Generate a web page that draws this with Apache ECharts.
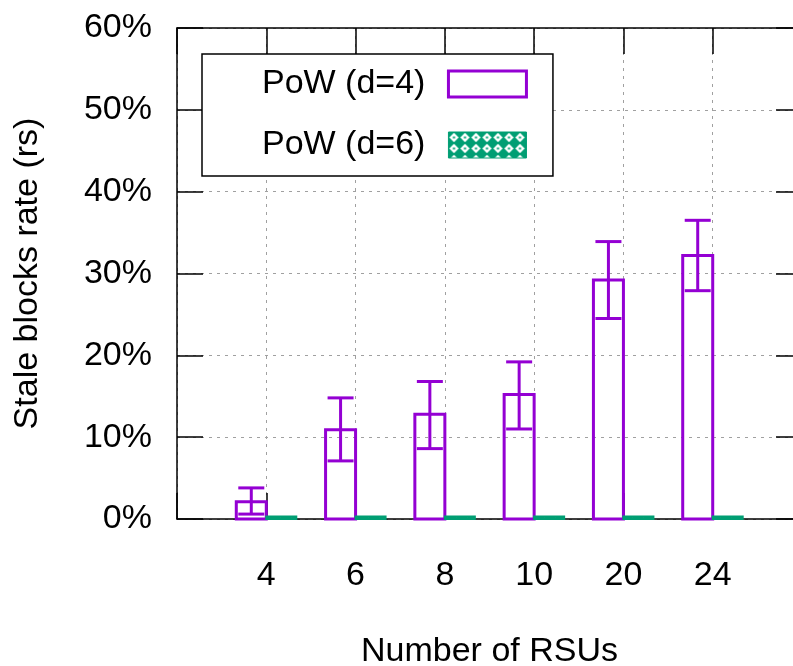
<!DOCTYPE html>
<html>
<head>
<meta charset="utf-8">
<script src="https://cdn.jsdelivr.net/npm/echarts@6/dist/echarts.min.js"></script>
<style>
html,body{margin:0;padding:0;background:#fff;}
#chart{width:793px;height:666px;}
</style>
</head>
<body>
<div id="chart"></div>
<script>
// ---- data ----
const categories = ['4', '6', '8', '10', '20', '24'];
const d4Values = [2.1, 10.9, 12.8, 15.2, 29.2, 32.2];
const d4Low    = [0.6, 7.1, 8.6, 11.0, 24.5, 27.9];
const d4High   = [3.8, 14.8, 16.8, 19.2, 33.9, 36.5];
const d6Values = [0.3, 0.3, 0.3, 0.3, 0.3, 0.3];
const yTicks = [0, 10, 20, 30, 40, 50, 60];
const seriesNames = ['PoW (d=4)', 'PoW (d=6)'];

// ---- styles ----
const PURPLE = '#9400d3';
const GREEN = '#009e73';
const FONT = 'Liberation Sans';
const FS = 34;
const BAR_W = 30;

function makePattern() {
  const c = document.createElement('canvas');
  c.width = 11; c.height = 11;
  const g = c.getContext('2d');
  g.fillStyle = GREEN; g.fillRect(0, 0, 11, 11);
  g.fillStyle = '#ffffff';
  g.beginPath();
  g.moveTo(5.5, 0.8); g.lineTo(10.2, 5.5); g.lineTo(5.5, 10.2); g.lineTo(0.8, 5.5);
  g.closePath(); g.fill();
  g.fillStyle = GREEN;
  g.fillRect(4.5, 4.5, 2, 2);
  return c;
}
const pattern = { image: makePattern(), repeat: 'repeat' };

const chart = echarts.init(document.getElementById('chart'), null, { renderer: 'canvas' });

const axisLineStyle = { color: '#000', width: 1.5 };
const gridLine = { show: true, lineStyle: { color: '#a0a0a0', width: 1, type: [3, 5] } };

const option = {
  animation: false,
  backgroundColor: '#fff',
  grid: { left: 177, top: 28, width: 625, height: 491, containLabel: false, outerBoundsMode: 'none' },
  legend: {
    orient: 'vertical',
    left: 202, top: 54,
    align: 'right',
    selectedMode: false,
    backgroundColor: '#fff',
    borderColor: '#000',
    borderWidth: 1.5,
    padding: [13, 25, 14, 60],
    itemWidth: 78,
    itemHeight: 26,
    itemGap: 27,
    textStyle: { fontFamily: FONT, fontSize: FS, color: '#000', lineHeight: 26, padding: [0, 18, 0, 0] },
    data: [
      { name: seriesNames[0], icon: 'rect', itemStyle: { color: 'rgba(255,255,255,0)', borderColor: PURPLE, borderWidth: 3 } },
      { name: seriesNames[1], icon: 'rect', itemStyle: { color: pattern, borderColor: GREEN, borderWidth: 1 } }
    ]
  },
  xAxis: [
    {
      type: 'value', position: 'bottom', min: -1, max: 6, interval: 1,
      name: 'Number of RSUs', nameLocation: 'middle', nameGap: 116,
      nameTextStyle: { fontFamily: FONT, fontSize: FS, color: '#000' },
      axisLine: { show: true, onZero: false, lineStyle: axisLineStyle },
      axisTick: { show: true, inside: true, length: 26, lineStyle: axisLineStyle },
      axisLabel: {
        margin: 40, fontFamily: FONT, fontSize: FS, color: '#000',
        formatter: v => (categories[v] !== undefined ? categories[v] : '')
      },
      splitLine: gridLine
    },
    {
      type: 'value', position: 'top', min: -1, max: 6, interval: 1,
      axisLine: { show: true, onZero: false, lineStyle: axisLineStyle },
      axisTick: { show: true, inside: true, length: 26, lineStyle: axisLineStyle },
      axisLabel: { show: false },
      splitLine: { show: false }
    }
  ],
  yAxis: [
    {
      type: 'value', position: 'left', min: yTicks[0], max: yTicks[yTicks.length - 1], interval: 10,
      name: 'Stale blocks rate (rs)', nameLocation: 'middle', nameGap: 132,
      nameTextStyle: { fontFamily: FONT, fontSize: FS, color: '#000' },
      axisLine: { show: true, onZero: false, lineStyle: axisLineStyle },
      axisTick: { show: true, inside: true, length: 26, lineStyle: axisLineStyle },
      axisLabel: { margin: 25, fontFamily: FONT, fontSize: FS, color: '#000', formatter: '{value}%' },
      splitLine: gridLine
    },
    {
      type: 'value', position: 'right', min: yTicks[0], max: yTicks[yTicks.length - 1], interval: 10,
      axisLine: { show: true, onZero: false, lineStyle: axisLineStyle },
      axisTick: { show: true, inside: true, length: 26, lineStyle: axisLineStyle },
      axisLabel: { show: false },
      splitLine: { show: false }
    }
  ],
  series: [
    {
      type: 'custom',
      name: seriesNames[0],
      xAxisIndex: 0, yAxisIndex: 0,
      itemStyle: { color: PURPLE },
      encode: { x: 0, y: [1, 2, 3] },
      data: categories.map((c, i) => [i, d4Values[i], d4Low[i], d4High[i]]),
      renderItem: function (params, api) {
        const i = api.value(0);
        const base = api.coord([i, 0]);
        const top = api.coord([i, api.value(1)]);
        const lo = api.coord([i, api.value(2)]);
        const hi = api.coord([i, api.value(3)]);
        const cx = base[0];
        const x0 = cx - BAR_W;
        const mid = cx - BAR_W / 2;
        const ls = { stroke: PURPLE, lineWidth: 3, fill: null };
        return {
          type: 'group',
          children: [
            { type: 'rect', shape: { x: x0, y: top[1], width: BAR_W, height: base[1] - top[1] },
              style: { fill: 'rgba(255,255,255,0)', stroke: PURPLE, lineWidth: 3 } },
            { type: 'line', shape: { x1: mid, y1: lo[1], x2: mid, y2: hi[1] }, style: ls },
            { type: 'line', shape: { x1: mid - 13, y1: hi[1], x2: mid + 13, y2: hi[1] }, style: ls },
            { type: 'line', shape: { x1: mid - 13, y1: lo[1], x2: mid + 13, y2: lo[1] }, style: ls }
          ]
        };
      }
    },
    {
      type: 'custom',
      name: seriesNames[1],
      xAxisIndex: 0, yAxisIndex: 0,
      itemStyle: { color: GREEN },
      encode: { x: 0, y: 1 },
      data: categories.map((c, i) => [i, d6Values[i]]),
      renderItem: function (params, api) {
        const i = api.value(0);
        const base = api.coord([i, 0]);
        const top = api.coord([i, api.value(1)]);
        return {
          type: 'rect',
          shape: { x: base[0], y: top[1], width: BAR_W, height: base[1] - top[1] },
          style: { fill: pattern, stroke: GREEN, lineWidth: 2 }
        };
      }
    }
  ]
};

chart.setOption(option);
</script>
</body>
</html>
